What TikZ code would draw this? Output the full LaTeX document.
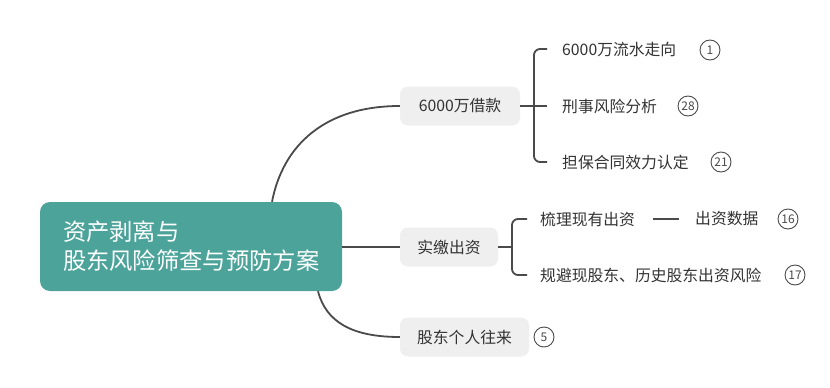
\documentclass[tikz,border=0pt]{standalone}
\usepackage{fontspec}
\setmainfont{Noto Sans CJK SC}
\definecolor{teal1}{HTML}{4BA39A}
\definecolor{gbox}{HTML}{EFEFEF}
\definecolor{txt}{HTML}{333333}
\definecolor{lin}{HTML}{4A4A4A}
\begin{document}
\begin{tikzpicture}[x=1pt,y=-1pt,
  conn/.style={draw=lin,line width=1.8pt},
  rootbox/.style={fill=teal1,rounded corners=10pt,text=white,font=\fontsize{23.3}{29}\selectfont,align=left,minimum width=302pt,minimum height=89pt,text width=256pt,inner sep=0pt},
  brbox/.style={fill=gbox,rounded corners=8pt,text=txt,font=\fontsize{15.8}{18}\selectfont,minimum height=39pt,inner sep=0pt},
  leaf/.style={text=txt,font=\fontsize{15.8}{18}\selectfont,anchor=west,inner sep=0pt},
  badge/.style={circle,draw=lin,line width=0.9pt,minimum size=20pt,inner sep=0pt,text=lin,font=\fontsize{12}{13}\selectfont}
]
\useasboundingbox (0,0) rectangle (830,388);
\fill[white] (0,0) rectangle (830,388);
% root
\node[rootbox] (root) at (191,246.5) {资产剥离与\\股东风险筛查与预防方案};
% branches
\node[brbox,minimum width=120pt] (b1) at (460,106) {6000万借款};
\node[brbox,minimum width=98pt] (b2) at (449,247) {实缴出资};
\node[brbox,minimum width=129pt] (b3) at (464.5,337) {股东个人往来};
% connectors root -> branches
\draw[conn] ([xshift=81pt]root.north) .. controls (283,145) and (325,106) .. (b1.west);
\draw[conn] (root.east |- b2.west) -- (b2.west);
\draw[conn] ([xshift=127pt]root.south) .. controls (326,322) and (352,337) .. (b3.west);
% leaves of b1
\node[leaf] (c1) at (562,49) {6000万流水走向};
\node[leaf] (c2) at (562,106) {刑事风险分析};
\node[leaf] (c3) at (562,162) {担保合同效力认定};
\node[badge] (n1) at (710,50) {1};
\node[badge] (n2) at (688,106) {28};
\node[badge] (n3) at (721,162) {21};
\coordinate (j1) at (534,106);
\draw[conn] (b1.east) -- ([xshift=-15pt]c2.west);
\draw[conn,rounded corners=6pt] ([xshift=-15pt]c1.west) -| (j1) |- ([xshift=-15pt]c3.west);
% leaves of b2
\node[leaf] (d1) at (540,219) {梳理现有出资};
\node[leaf] (d1b) at (695,219) {出资数据};
\node[leaf] (d2) at (540,275) {规避现股东、历史股东出资风险};
\node[badge] (n4) at (788,219) {16};
\node[badge] (n5) at (795,275) {17};
\coordinate (j2) at (512,247);
\draw[conn] (b2.east) -- (j2);
\draw[conn,rounded corners=6pt] ([xshift=-13pt]d1.west) -| (j2) |- ([xshift=-13pt]d2.west);
\draw[conn] ([xshift=-42pt]d1b.west) -- ([xshift=-16pt]d1b.west);
% badge of b3
\node[badge] (n6) at (544,337) {5};
\end{tikzpicture}
\end{document}
